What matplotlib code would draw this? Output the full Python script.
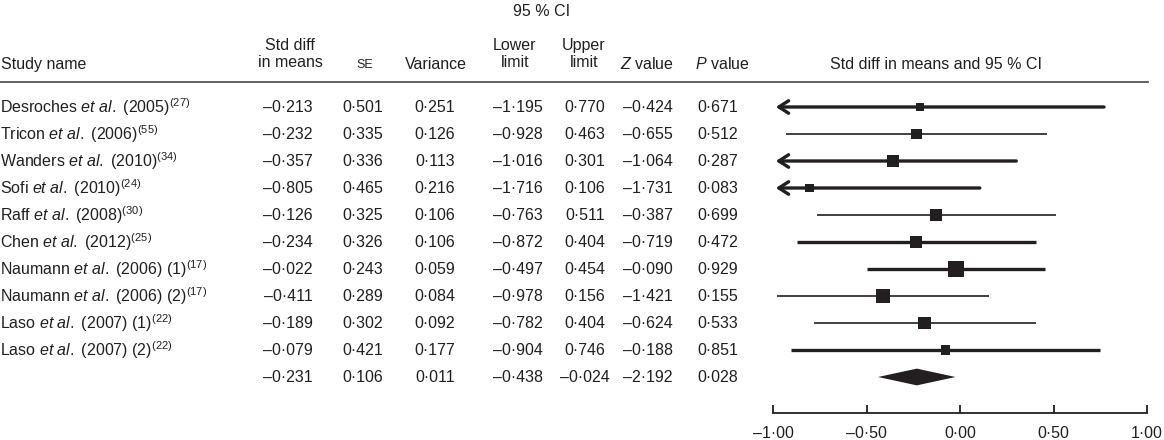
import numpy as np
import matplotlib
matplotlib.use('Agg')
import matplotlib.pyplot as plt
import matplotlib.transforms as mtransforms
from matplotlib.ticker import FuncFormatter

plt.rcParams['font.family'] = ['Liberation Sans', 'DejaVu Sans']
plt.rcParams['mathtext.fontset'] = 'custom'
plt.rcParams['mathtext.rm'] = 'Liberation Sans'
plt.rcParams['mathtext.it'] = 'Liberation Sans:italic'

# study data
authors = ['Desroches', 'Tricon', 'Wanders', 'Sofi', 'Raff', 'Chen',
           'Naumann', 'Naumann', 'Laso', 'Laso']
years = ['2005', '2006', '2010', '2010', '2008', '2012', '2006', '2006', '2007', '2007']
arms = ['', '', '', '', '', '', ' (1)', ' (2)', ' (1)', ' (2)']
refs = ['27', '55', '34', '24', '30', '25', '17', '17', '22', '22']

std_diff = [-0.213, -0.232, -0.357, -0.805, -0.126, -0.234, -0.022, -0.411, -0.189, -0.079]
se = [0.501, 0.335, 0.336, 0.465, 0.325, 0.326, 0.243, 0.289, 0.302, 0.421]
variance = [0.251, 0.126, 0.113, 0.216, 0.106, 0.106, 0.059, 0.084, 0.092, 0.177]
lower = [-1.195, -0.928, -1.016, -1.716, -0.763, -0.872, -0.497, -0.978, -0.782, -0.904]
upper = [0.770, 0.463, 0.301, 0.106, 0.511, 0.404, 0.454, 0.156, 0.404, 0.746]
z_val = [-0.424, -0.655, -1.064, -1.731, -0.387, -0.719, -0.090, -1.421, -0.624, -0.188]
p_val = [0.671, 0.512, 0.287, 0.083, 0.699, 0.472, 0.929, 0.155, 0.533, 0.851]

# pooled estimate
pooled = [-0.231, 0.106, 0.011, -0.438, -0.024, -2.192, 0.028]

x_ticks = [-1.0, -0.5, 0.0, 0.5, 1.0]

# line weights as printed (thick / thin)
line_w = [2.4, 1.2, 2.4, 2.4, 1.2, 2.4, 2.4, 1.2, 1.2, 2.4]

W, H = 1164, 440
INK = '#231f20'
FS = 11.5


def fmt(v):
    s = f"{abs(v):.3f}".replace('.', '\u00b7')
    return ('\u2013' + s) if v < 0 else s


def fmt_tick(v, pos=None):
    s = f"{abs(v):.2f}".replace('.', '\u00b7')
    return ('\u2013' + s) if v < 0 else s


fig = plt.figure(figsize=(W / 100, H / 100), dpi=100)

# forest axes: x from -1 to 1 across pixels 773..1147, row i at pixel 107 + 27*i
x0, x1 = 773, 1147
row0, step = 107, 27.0
ax = fig.add_axes([x0 / W, 0, (x1 - x0) / W, 1])
ax.set_xlim(-1, 1)
ax.set_ylim((H - row0) / step, -row0 / step)
ax.patch.set_alpha(0)
for s in ['top', 'left', 'right']:
    ax.spines[s].set_visible(False)
ax.spines['bottom'].set_position(('data', (413 - row0) / step))
ax.spines['bottom'].set_linewidth(1.3)
ax.spines['bottom'].set_color(INK)
ax.set_yticks([])
ax.set_xticks(x_ticks)
ax.xaxis.set_major_formatter(FuncFormatter(fmt_tick))
ax.tick_params(axis='x', direction='in', length=6, width=1.3, color=INK,
               labelsize=FS, labelcolor=INK, pad=9)

n = len(std_diff)
rows = np.arange(n)
weights = 1.0 / np.array(variance)

for i in range(n):
    lo = max(lower[i], -0.985)
    if lower[i] < -1:
        ax.annotate('', xy=(lo, rows[i]), xytext=(upper[i], rows[i]),
                    arrowprops=dict(arrowstyle='->,head_length=0.7,head_width=0.45',
                                    lw=line_w[i], color=INK, shrinkA=0, shrinkB=0))
    else:
        ax.plot([lower[i], upper[i]], [rows[i], rows[i]], color=INK,
                lw=line_w[i], solid_capstyle='butt')

side_px = 3.9 * np.sqrt(weights)
ax.scatter(std_diff, rows, marker='s', s=(side_px * 0.72) ** 2, color=INK,
           linewidths=0, zorder=3)

# pooled diamond
yp = n
hh = 0.31
ax.fill([pooled[3], pooled[0], pooled[4], pooled[0]],
        [yp, yp - hh, yp, yp + hh], color=INK, lw=0)

# table text
tr = mtransforms.blended_transform_factory(fig.transFigure, ax.transData)
col_x = [288, 363, 435, 518, 585, 648, 718]

for i in range(n):
    label = (f"{authors[i]} $\\mathit{{et\\ al.}}$ ({years[i]}){arms[i]}"
             f"$^{{({refs[i]})}}$")
    fig.text(0.5 / W, rows[i], label, transform=tr, ha='left', va='center',
             fontsize=FS, color=INK)
    vals = [std_diff[i], se[i], variance[i], lower[i], upper[i], z_val[i], p_val[i]]
    for cx, v in zip(col_x, vals):
        fig.text(cx / W, rows[i], fmt(v), transform=tr, ha='center', va='center',
                 fontsize=FS, color=INK)

for cx, v in zip(col_x, pooled):
    fig.text(cx / W, yp, fmt(v), transform=tr, ha='center', va='center',
             fontsize=FS, color=INK)

# headers
def ftext(px, py, s, **kw):
    kw.setdefault('fontsize', FS)
    kw.setdefault('color', INK)
    kw.setdefault('va', 'center')
    fig.text(px / W, 1 - py / H, s, **kw)

ftext(542, 11, '95 % CI', ha='center')
ftext(1, 64, 'Study name', ha='left')
ftext(290, 54, 'Std diff\nin means', ha='center', linespacing=1.15)
ftext(365, 65, 'SE', ha='center', fontsize=9)
ftext(436, 64, 'Variance', ha='center')
ftext(515, 54, 'Lower\nlimit', ha='center', linespacing=1.15)
ftext(584, 54, 'Upper\nlimit', ha='center', linespacing=1.15)
ftext(647, 64, '$\\mathit{Z}$ value', ha='center')
ftext(722, 64, '$\\mathit{P}$ value', ha='center')
ftext(936, 64, 'Std diff in means and 95 % CI', ha='center')

fig.add_artist(plt.Line2D([0, 1148 / W], [1 - 82 / H, 1 - 82 / H],
                          transform=fig.transFigure, color='#555555', lw=1.3))

fig.savefig('out.png', dpi=100)
